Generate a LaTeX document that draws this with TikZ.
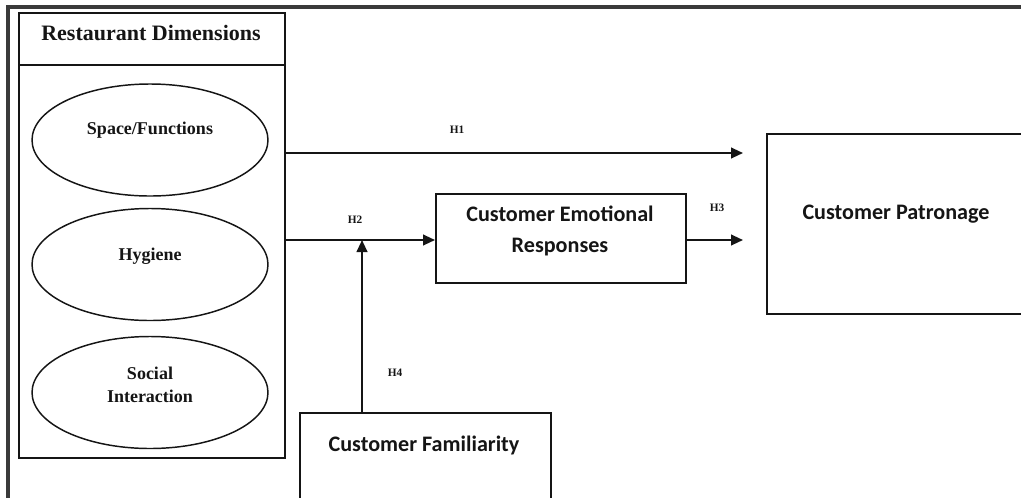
\documentclass[tikz,border=0pt]{standalone}
\usepackage{fontspec}
\setmainfont{Liberation Serif}
\newfontfamily\calib{Carlito}
\usetikzlibrary{arrows.meta,positioning,shapes.geometric}
\definecolor{ink}{HTML}{151515}
\definecolor{frm}{HTML}{3A3A3A}
\tikzset{
  >={Triangle[length=9pt,width=8pt]},
  box/.style={draw=ink,line width=1.5pt,inner sep=0pt,anchor=north west},
  dim/.style={draw=ink,ellipse,line width=1.1pt,inner sep=0pt,minimum width=177pt,minimum height=84pt},
  dtxt/.style={font=\fontsize{13.5}{17}\selectfont\bfseries,align=center,inner sep=0pt,text=ink},
  btxt/.style={font=\fontsize{16.6}{23}\calib\bfseries,align=center,inner sep=0pt,text=ink},
  hyp/.style={font=\fontsize{8.5}{9}\selectfont\bfseries,inner sep=0pt,text=ink},
  arr/.style={->,draw=ink,line width=1.5pt},
}
\begin{document}
\begin{tikzpicture}[x=0.75pt,y=-0.75pt]
\path[use as bounding box,clip] (0,0) rectangle (1021,497);
\fill[white] (0,0) rectangle (1021,497);
% outer frame (cut by the page)
\draw[frm,line width=2.6pt] (8,510) -- (8,7) -- (1030,7);
% restaurant dimensions block
\node[box,minimum width=199.5pt,minimum height=39pt] (rdhead) at (18,12) {};
\node[box,minimum width=199.5pt,minimum height=294.75pt] (rdbody) at (18,64) {};
\node[font=\fontsize{16.5}{19}\selectfont\bfseries,inner sep=0pt,text=ink] (rdtxt) at (151,33) {Restaurant Dimensions};
\node[dim] (space) at (150,140) {};
\node[dim] (hyg) at (150,264.5) {};
\node[dim] (social) at (150,392.5) {};
\node[dtxt] (spacetxt) at (150,130) {Space/Functions};
\node[dtxt] (hygtxt) at (150,256) {Hygiene};
\node[dtxt] (socialtxt) at (150,385) {Social\\Interaction};
% constructs
\node[box,minimum width=187.5pt,minimum height=66.75pt] (cer) at (435,193) {};
\node[btxt] (certxt) at (560,231) {Customer Emotional\\Responses};
\node[box,minimum width=195pt,minimum height=135pt] (cp) at (766,133) {};
\node[btxt] (cptxt) at (896,214) {Customer Patronage};
\node[box,minimum width=188.25pt,minimum height=81pt] (cf) at (299,412) {};
\node[btxt] (cftxt) at (424,445) {Customer Familiarity};
% paths
\coordinate (h1end) at (743,153);
\coordinate (h2from) at (284,240);
\coordinate (h3end) at (743,240);
\coordinate (h4end) at (362,240);
\draw[arr] (rdbody.east |- h1end) -- (h1end);
\draw[arr] (h2from) -- (cer.west |- h2from);
\draw[arr] (cer.east |- h3end) -- (h3end);
\draw[arr] (cf.north -| h4end) -- (h4end);
\node[hyp] (h1) at (457,130) {H1};
\node[hyp] (h2) at (355,220) {H2};
\node[hyp] (h3) at (717,208) {H3};
\node[hyp] (h4) at (395,373) {H4};
\end{tikzpicture}
\end{document}
